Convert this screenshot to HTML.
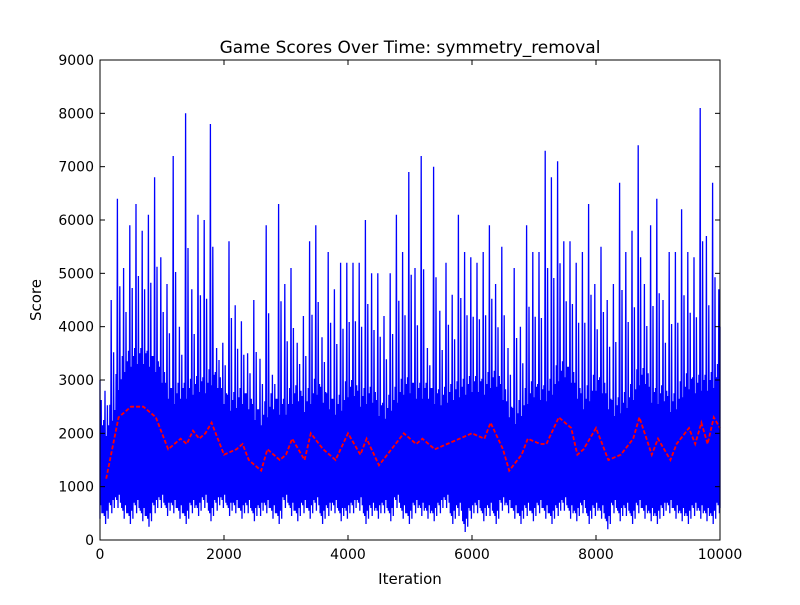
<!DOCTYPE html>
<html><head><meta charset="utf-8">
<style>
body{margin:0;background:#fff;}
svg text{font-family:"DejaVu Sans","Liberation Sans",sans-serif;}
</style></head>
<body>
<svg id="chart" width="800" height="600" viewBox="0 0 800 600" xmlns="http://www.w3.org/2000/svg">
<rect width="800" height="600" fill="#fff"/>
<text x="410" y="53" font-size="17" text-anchor="middle">Game Scores Over Time: symmetry_removal</text>
<text x="410" y="584" font-size="15" text-anchor="middle">Iteration</text>
<text x="41" y="300" font-size="15" text-anchor="middle" transform="rotate(-90 41 300)">Score</text>
<g id="plot"></g>
<g id="axes"></g>
</svg>
<script>
const xTicks=[0,2000,4000,6000,8000,10000];
const yTicks=[0,1000,2000,3000,4000,5000,6000,7000,8000,9000];
const binMax=[3000,2800,4500,6400,5100,5900,6300,5800,6100,6800,5300,4800,7200,4000,8000,4700,6100,6000,7800,3600,3700,5600,4400,4100,3500,4500,3400,5900,3100,6300,4800,5100,3700,4200,5600,5900,3800,5400,4700,5200,5200,5200,5200,6000,5000,5000,4200,5000,6100,5400,6900,5100,7200,3600,7000,4300,5200,4600,6100,5400,5300,5200,5400,5900,4800,5500,3600,5100,4000,5900,5400,5400,7300,6800,7100,5600,5600,5200,5400,6300,4800,5500,4500,4800,6700,5400,5800,7400,4800,5900,6400,4500,5400,5400,6200,5400,5300,8100,5700,6700,4700];
const binMin=[400,300,500,600,400,300,500,350,250,500,600,450,500,400,300,500,450,600,350,550,600,450,500,400,500,350,450,500,400,300,600,450,350,500,400,550,300,450,500,350,400,500,550,300,450,400,500,350,600,400,300,500,450,400,350,500,600,300,450,150,400,500,350,450,300,550,500,400,300,450,350,500,400,300,450,550,400,350,500,300,450,400,200,500,350,450,300,500,400,350,300,450,500,400,350,300,450,400,350,300,500];
const avgIter=[100,300,500,700,900,1100,1300,1400,1500,1600,1700,1800,2000,2200,2300,2400,2600,2700,2900,3000,3100,3300,3400,3600,3800,4000,4200,4300,4500,4700,4900,5100,5200,5400,5600,5800,6000,6200,6300,6500,6600,6800,6900,7100,7200,7400,7600,7700,7800,8000,8200,8400,8600,8700,8900,9000,9200,9300,9500,9600,9700,9800,9900,10000];
const avgVal=[1150,2300,2500,2500,2300,1700,1900,1800,2050,1900,2000,2200,1600,1700,1800,1500,1300,1700,1500,1600,1900,1500,2000,1700,1500,2000,1600,1900,1400,1700,2000,1800,1900,1700,1800,1900,2000,1900,2200,1700,1300,1600,1900,1800,1800,2300,2100,1600,1700,2100,1500,1600,1900,2300,1600,1900,1500,1800,2100,1800,2200,1800,2300,2100];
const X0=100,X1=720,Y0=540,Y1=60;
const xs=v=>X0+(v-0)/10000*(X1-X0);
const ys=v=>Y0-(v/9000)*(Y0-Y1);
const NS="http://www.w3.org/2000/svg";
const plot=document.getElementById('plot'),axes=document.getElementById('axes');
function avgAt(it){for(let i=1;i<avgIter.length;i++){if(it<=avgIter[i]){const t=(it-avgIter[i-1])/(avgIter[i]-avgIter[i-1]);return avgVal[i-1]+t*(avgVal[i]-avgVal[i-1]);}}return avgVal[avgVal.length-1];}
let pts=[];
for(let b=0;b<binMax.length;b++){
  const it0=b*100-50;
  const a=Math.max(avgAt(Math.max(it0,100)),1150);
  const hi=a+1100, lo=binMin[b];
  const mid=(binMax[b]+hi)/2;
  const steps=[[0,lo+200],[10,hi],[20,lo+150],[30,binMax[b]],[40,lo],[50,hi-300],[60,lo+250],[70,mid],[80,lo+100],[90,hi-100]];
  steps.forEach(s=>{const it=Math.min(Math.max(it0+s[0],0),10000);pts.push(xs(it).toFixed(1)+','+ys(s[1]).toFixed(1));});
}
const blue=document.createElementNS(NS,'polyline');
blue.setAttribute('points',pts.join(' '));
blue.setAttribute('fill','none');blue.setAttribute('stroke','#0000ff');blue.setAttribute('stroke-width','1.3');


plot.appendChild(blue);
const red=document.createElementNS(NS,'polyline');
red.setAttribute('points',avgIter.map((it,i)=>xs(it).toFixed(1)+','+ys(avgVal[i]).toFixed(1)).join(' '));
red.setAttribute('fill','none');red.setAttribute('stroke','#ff0000');red.setAttribute('stroke-width','1.8');red.setAttribute('stroke-dasharray','4,2');


plot.appendChild(red);
const fr=document.createElementNS(NS,'rect');
fr.setAttribute('x',X0);fr.setAttribute('y',Y1);fr.setAttribute('width',X1-X0);fr.setAttribute('height',Y0-Y1);
fr.setAttribute('fill','none');fr.setAttribute('stroke','#000');fr.setAttribute('stroke-width','1');


axes.appendChild(fr);
function line(x1,y1,x2,y2){const l=document.createElementNS(NS,'line');l.setAttribute('x1',x1);l.setAttribute('y1',y1);l.setAttribute('x2',x2);l.setAttribute('y2',y2);l.setAttribute('stroke','#000');return l;}
xTicks.forEach(v=>{const x=xs(v);
  const t1=line(x,Y0,x,Y0-5);axes.appendChild(t1);
  const t2=line(x,Y1,x,Y1+5);axes.appendChild(t2);
  const tx=document.createElementNS(NS,'text');tx.setAttribute('x',x);tx.setAttribute('y',Y0+19);tx.setAttribute('font-size','14');tx.setAttribute('text-anchor','middle');tx.textContent=v;
  
  
  axes.appendChild(tx);});
yTicks.forEach(v=>{const y=ys(v);
  const t1=line(X0,y,X0+5,y);axes.appendChild(t1);
  const t2=line(X1,y,X1-5,y);axes.appendChild(t2);
  const tx=document.createElementNS(NS,'text');tx.setAttribute('x',X0-6);tx.setAttribute('y',y+5);tx.setAttribute('font-size','14');tx.setAttribute('text-anchor','end');tx.textContent=v;
  
  
  axes.appendChild(tx);});
</script>
</body></html>
